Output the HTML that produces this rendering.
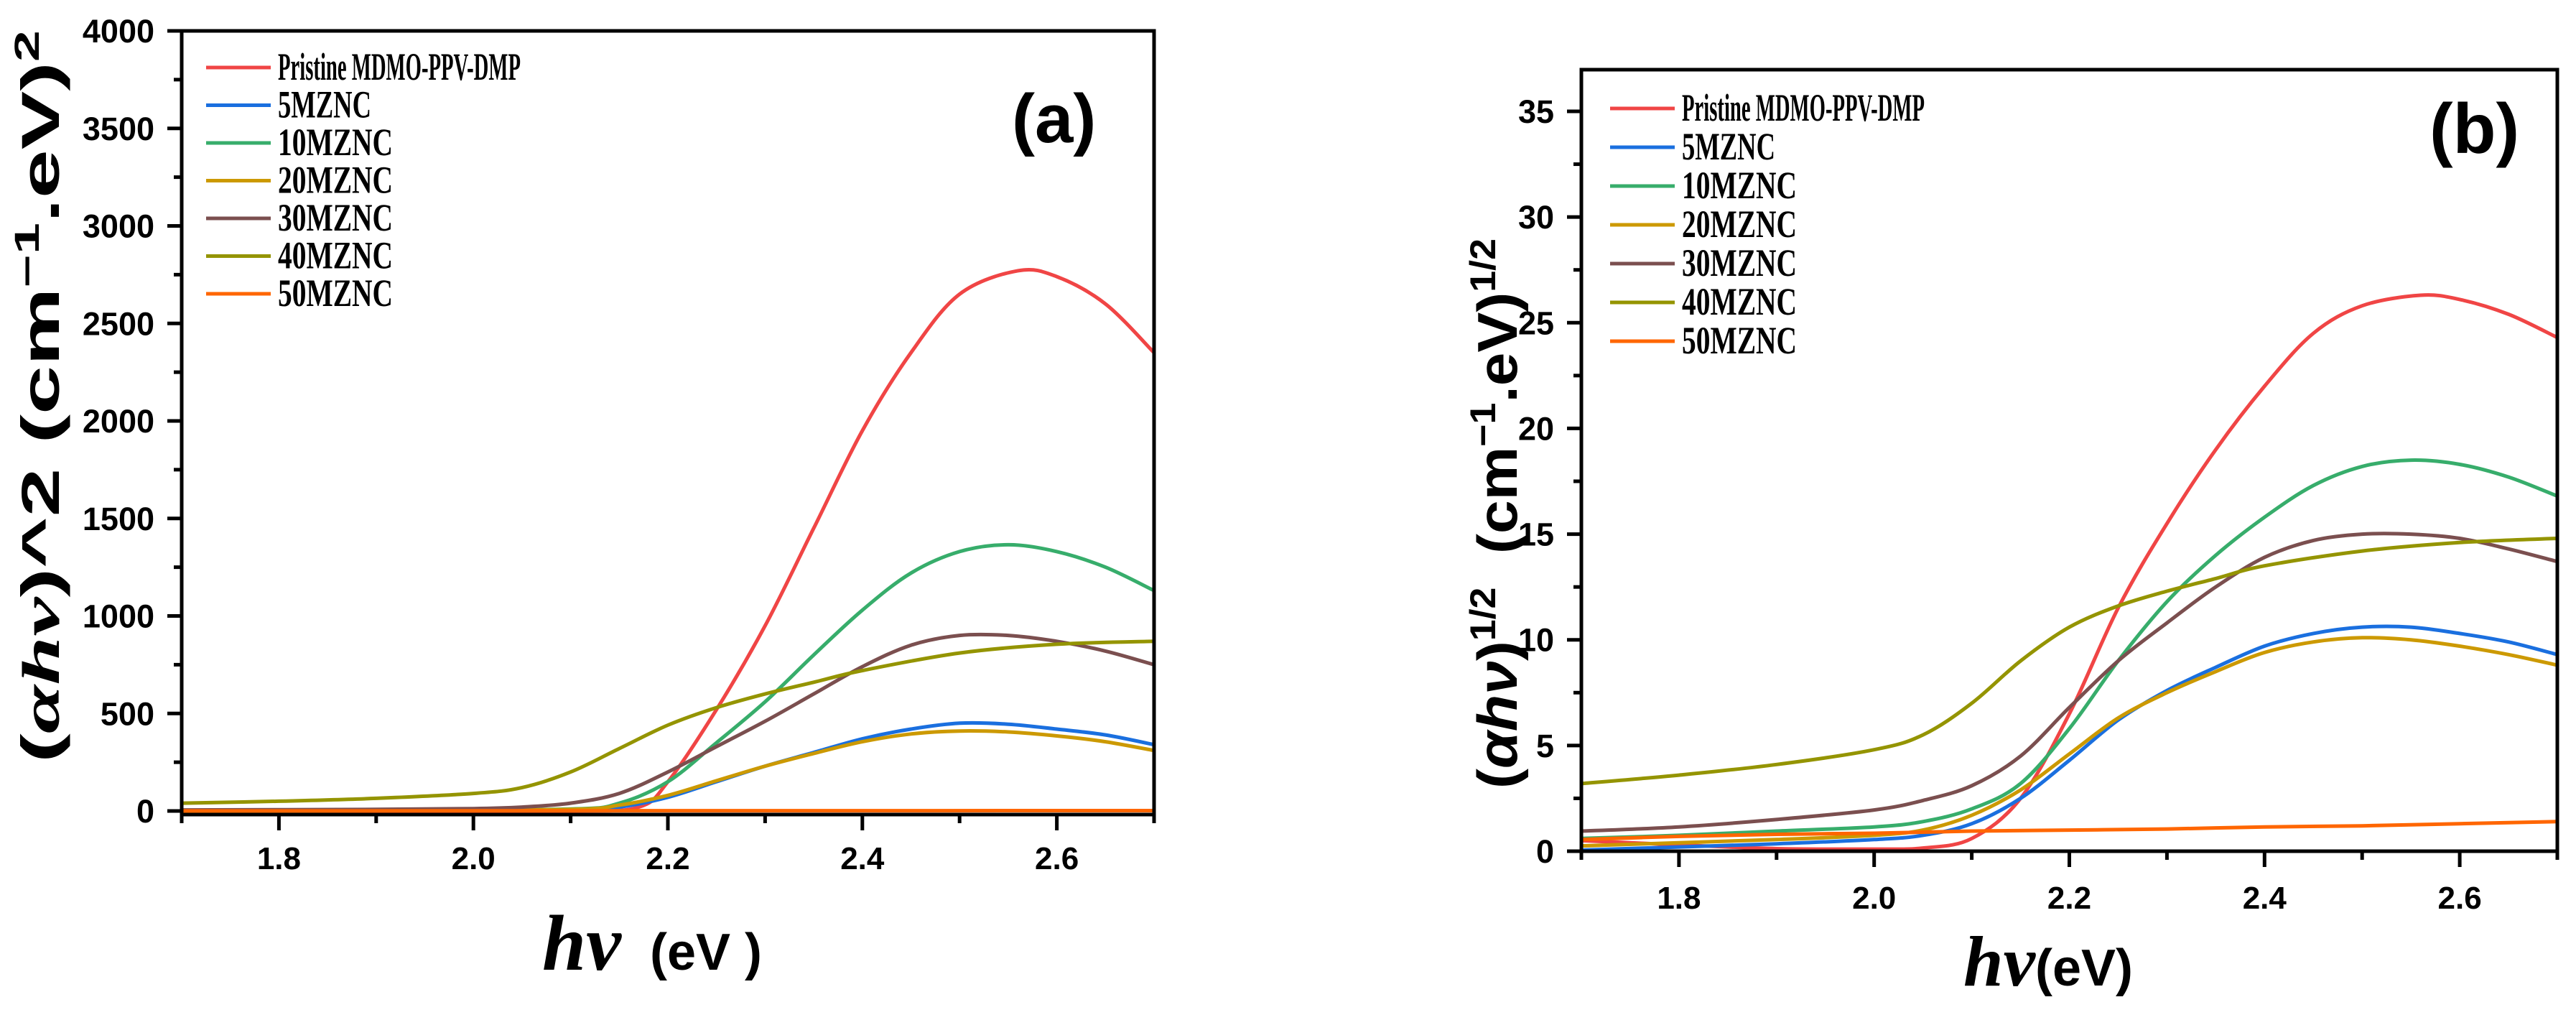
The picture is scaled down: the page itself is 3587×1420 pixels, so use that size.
<!DOCTYPE html>
<html><head><meta charset="utf-8"><style>
html,body{margin:0;padding:0;background:#fff;}
svg{display:block;}
text{font-family:"Liberation Sans",sans-serif;font-weight:bold;fill:#000;}
</style></head><body>
<svg id="chart" width="3587" height="1420" viewBox="0 0 3587 1420" xmlns="http://www.w3.org/2000/svg">
<defs>
<clipPath id="clipA"><rect x="253" y="43" width="1354" height="1090"/></clipPath>
<clipPath id="clipB"><rect x="2202" y="97" width="1359" height="1088"/></clipPath>
</defs>
<g id="panelA"></g>
<g id="panelB"></g>
</svg>
<script>
const seriesNames = ["Pristine MDMO-PPV-DMP","5MZNC","10MZNC","20MZNC","30MZNC","40MZNC","50MZNC"];
const seriesKeys = ["pristine","5mznc","10mznc","20mznc","30mznc","40mznc","50mznc"];
const seriesColors = ["#f04545","#1a6fdf","#37ad6b","#cc9900","#7b4f4f","#949400","#ff6600"];
const xTicks = [1.8,2.0,2.2,2.4,2.6];
const yTicksA = [0,500,1000,1500,2000,2500,3000,3500,4000];
const yTicksB = [0,5,10,15,20,25,30,35];

// Panel (a) data
const aRedX = [1.7,1.9,2.1,2.17,2.2,2.25,2.3,2.35,2.4,2.45,2.5,2.56,2.6,2.65,2.7];
const aRedY = [0,0,0,20,150,520,950,1450,1950,2350,2650,2770,2740,2600,2350];
const aBlueX = [1.7,1.9,2.1,2.15,2.2,2.25,2.3,2.35,2.4,2.45,2.5,2.55,2.6,2.65,2.7];
const aBlueY = [0,2,5,20,70,150,230,300,370,420,450,445,420,390,340];
const aGreenX = [1.7,1.9,2.1,2.15,2.2,2.25,2.3,2.35,2.4,2.45,2.5,2.55,2.6,2.65,2.7];
const aGreenY = [0,2,10,40,150,350,560,800,1030,1220,1330,1365,1330,1250,1130];
const aYellowX = [1.7,1.9,2.1,2.15,2.2,2.25,2.3,2.35,2.4,2.45,2.5,2.55,2.6,2.65,2.7];
const aYellowY = [0,2,8,30,80,155,230,295,355,395,410,405,385,355,310];
const aBrownX = [1.7,1.9,2.0,2.05,2.1,2.15,2.2,2.25,2.3,2.35,2.4,2.45,2.5,2.55,2.6,2.65,2.7];
const aBrownY = [5,8,12,20,40,90,200,330,460,600,740,850,900,900,870,820,750];
const aOliveX = [1.7,1.8,1.9,2.0,2.05,2.1,2.15,2.2,2.25,2.3,2.35,2.4,2.5,2.6,2.7];
const aOliveY = [40,50,65,90,120,200,320,440,530,600,660,720,810,855,870];
const aOrangeX = [1.7,2.0,2.3,2.7];
const aOrangeY = [0.3,0.8,1.3,2];

// Panel (b) data
const bRedX = [1.7,1.8,1.9,2.0,2.05,2.1,2.15,2.2,2.25,2.3,2.35,2.4,2.45,2.5,2.56,2.6,2.65,2.7];
const bRedY = [0.5,0.3,0.12,0.1,0.15,0.6,2.5,6.5,11.5,15.5,19,22,24.5,25.8,26.3,26.1,25.4,24.3];
const bBlueX = [1.7,1.8,1.9,2.0,2.05,2.1,2.15,2.2,2.25,2.3,2.35,2.4,2.45,2.5,2.55,2.6,2.65,2.7];
const bBlueY = [0.05,0.2,0.35,0.55,0.75,1.3,2.5,4.3,6.2,7.6,8.7,9.7,10.3,10.6,10.6,10.3,9.9,9.3];
const bGreenX = [1.7,1.8,1.9,2.0,2.05,2.1,2.15,2.2,2.25,2.3,2.35,2.4,2.45,2.5,2.55,2.6,2.65,2.7];
const bGreenY = [0.6,0.75,0.95,1.15,1.4,2.0,3.2,5.8,9.0,11.8,14.0,15.8,17.3,18.2,18.5,18.3,17.7,16.8];
const bYellowX = [1.7,1.8,1.9,2.0,2.05,2.1,2.15,2.2,2.25,2.3,2.35,2.4,2.45,2.5,2.55,2.6,2.65,2.7];
const bYellowY = [0.25,0.4,0.55,0.75,1.0,1.7,2.9,4.6,6.3,7.5,8.5,9.4,9.9,10.1,10.0,9.7,9.3,8.8];
const bBrownX = [1.7,1.8,1.9,2.0,2.05,2.1,2.15,2.2,2.25,2.3,2.35,2.4,2.45,2.5,2.55,2.6,2.65,2.7];
const bBrownY = [0.95,1.15,1.5,1.95,2.4,3.1,4.5,6.8,9.0,10.8,12.5,13.9,14.7,15.0,15.0,14.8,14.3,13.7];
const bOliveX = [1.7,1.8,1.9,2.0,2.05,2.1,2.15,2.2,2.25,2.3,2.35,2.4,2.5,2.6,2.7];
const bOliveY = [3.2,3.6,4.1,4.8,5.5,7.0,9.0,10.6,11.6,12.3,12.9,13.5,14.2,14.6,14.8];
const bOrangeX = [1.7,1.8,1.9,2.0,2.1,2.2,2.3,2.4,2.5,2.6,2.7];
const bOrangeY = [0.55,0.7,0.8,0.85,0.95,1.0,1.05,1.15,1.2,1.3,1.4];

const NS = "http://www.w3.org/2000/svg";
function mk(parent, tag, attrs){
  const e = document.createElementNS(NS, tag);
  for (const k in attrs) e.setAttribute(k, attrs[k]);
  parent.appendChild(e);
  return e;
}
function smoothPath(pts){
  let d = "M" + pts[0][0].toFixed(1) + "," + pts[0][1].toFixed(1);
  for (let i = 0; i < pts.length - 1; i++){
    const p0 = pts[Math.max(0,i-1)], p1 = pts[i], p2 = pts[i+1], p3 = pts[Math.min(pts.length-1,i+2)];
    const c1x = p1[0] + (p2[0]-p0[0])/6, c1y = p1[1] + (p2[1]-p0[1])/6;
    const c2x = p2[0] - (p3[0]-p1[0])/6, c2y = p2[1] - (p3[1]-p1[1])/6;
    d += " C" + c1x.toFixed(1)+","+c1y.toFixed(1)+" "+c2x.toFixed(1)+","+c2y.toFixed(1)+" "+p2[0].toFixed(1)+","+p2[1].toFixed(1);
  }
  return d;
}

function drawPanel(g, cfg){
  const xs = v => cfg.x0 + (v - 1.7) / 1.0 * (cfg.x1 - cfg.x0);
  const ys = v => cfg.yZero - v * cfg.yPer;
  const sg = mk(g, "g", {"clip-path": "url(#" + cfg.clip + ")"});
  
  
  cfg.data.forEach((s, i) => {
    const pts = s[0].map((xv, j) => [xs(xv), ys(s[1][j])]);
    const p = mk(sg, "path", {d: smoothPath(pts), fill: "none", stroke: seriesColors[i], "stroke-width": 5, "stroke-linejoin": "round"});
    
    
  });
  const fr = mk(g, "path", {d: "M" + cfg.x0 + "," + cfg.axisY + " V" + cfg.top + " H" + cfg.x1 + " V" + cfg.axisY + " Z", fill: "none", stroke: "#000", "stroke-width": 5});
  
  
  for (let k = 0; k <= 10; k++){
    const v = 1.7 + k * 0.1;
    const X = xs(v);
    const major = (k % 2 === 1);
    const t = mk(g, "line", {x1: X, x2: X, y1: cfg.axisY, y2: cfg.axisY + (major ? 22 : 12), stroke: "#000", "stroke-width": 5});
    
    
  }
  xTicks.forEach(v => {
    const t = mk(g, "text", {x: xs(v), y: cfg.xLabelY, "font-size": 44, "text-anchor": "middle"});
    t.textContent = v.toFixed(1);
    
    
  });
  const step = cfg.yTicks[1] - cfg.yTicks[0];
  const maxV = cfg.yTicks[cfg.yTicks.length - 1];
  for (let v = 0; v <= maxV + 1e-9; v += step / 2){
    const Y = ys(v);
    const major = Math.abs(v / step - Math.round(v / step)) < 1e-6;
    const t = mk(g, "line", {x1: cfg.x0, x2: cfg.x0 - (major ? 20 : 11), y1: Y, y2: Y, stroke: "#000", "stroke-width": 5});
    
    
  }
  cfg.yTicks.forEach(v => {
    const t = mk(g, "text", {x: cfg.x0 - 38, y: ys(v) + 16, "font-size": 45, "text-anchor": "end"});
    t.textContent = String(v);
    
    
  });
  seriesNames.forEach((n, i) => {
    const Y = cfg.legY + i * cfg.legStep;
    const l = mk(g, "line", {x1: cfg.legX, x2: cfg.legX + 90, y1: Y, y2: Y, stroke: seriesColors[i], "stroke-width": 5});
    
    
    const tl = (i === 0) ? 338 : (n.length === 5 ? 130 : 160);
    const t = mk(g, "text", {x: cfg.legX + 100, y: Y + 17, "font-size": 54, textLength: tl, lengthAdjust: "spacingAndGlyphs", style: "font-family:'Liberation Serif',serif;font-size:54px"});
    t.textContent = n;
    
    
  });
}

drawPanel(document.getElementById("panelA"), {
  x0: 253, x1: 1607, top: 43, axisY: 1134, yZero: 1129, yPer: (1129 - 43) / 4000,
  yTicks: yTicksA, xLabelY: 1210, clip: "clipA", legX: 287, legY: 94, legStep: 52.5,
  data: [[aRedX,aRedY],[aBlueX,aBlueY],[aGreenX,aGreenY],[aYellowX,aYellowY],[aBrownX,aBrownY],[aOliveX,aOliveY],[aOrangeX,aOrangeY]]
});
drawPanel(document.getElementById("panelB"), {
  x0: 2202, x1: 3561, top: 97, axisY: 1185, yZero: 1185, yPer: (1185 - 155) / 35,
  yTicks: yTicksB, xLabelY: 1265, clip: "clipB", legX: 2242, legY: 151, legStep: 54,
  data: [[bRedX,bRedY],[bBlueX,bBlueY],[bGreenX,bGreenY],[bYellowX,bYellowY],[bBrownX,bBrownY],[bOliveX,bOliveY],[bOrangeX,bOrangeY]]
});
</script>
<svg width="3587" height="1420" style="position:absolute;left:0;top:0;pointer-events:none" xmlns="http://www.w3.org/2000/svg">
<text x="1409" y="198" font-size="96">(a)</text>
<text x="3383" y="213" font-size="98">(b)</text>
<text transform="translate(82,552) rotate(-90)" text-anchor="middle" font-size="74" textLength="1020" lengthAdjust="spacingAndGlyphs">(<tspan font-family="Liberation Serif" font-style="italic">αhν</tspan>)^2 (cm<tspan font-size="48" dy="-28">−1</tspan><tspan dy="28">.eV)</tspan><tspan font-size="48" dy="-28">2</tspan></text>
<text transform="translate(2112,715) rotate(-90)" text-anchor="middle" font-size="78" textLength="766" lengthAdjust="spacingAndGlyphs">(<tspan font-style="italic">αhν</tspan>)<tspan font-size="50" dy="-30">1/2</tspan><tspan dy="30" xml:space="preserve">  (cm</tspan><tspan font-size="50" dy="-30">−1</tspan><tspan dy="30">.eV)</tspan><tspan font-size="50" dy="-30">1/2</tspan></text>
<text x="755" y="1350" font-size="72"><tspan font-family="Liberation Serif" font-style="italic" font-size="110">hν</tspan><tspan xml:space="preserve">  (eV )</tspan></text>
<text x="2734" y="1372" font-size="72"><tspan font-family="Liberation Serif" font-style="italic" font-size="100">hν</tspan><tspan>(eV)</tspan></text>
</svg>
</body></html>
